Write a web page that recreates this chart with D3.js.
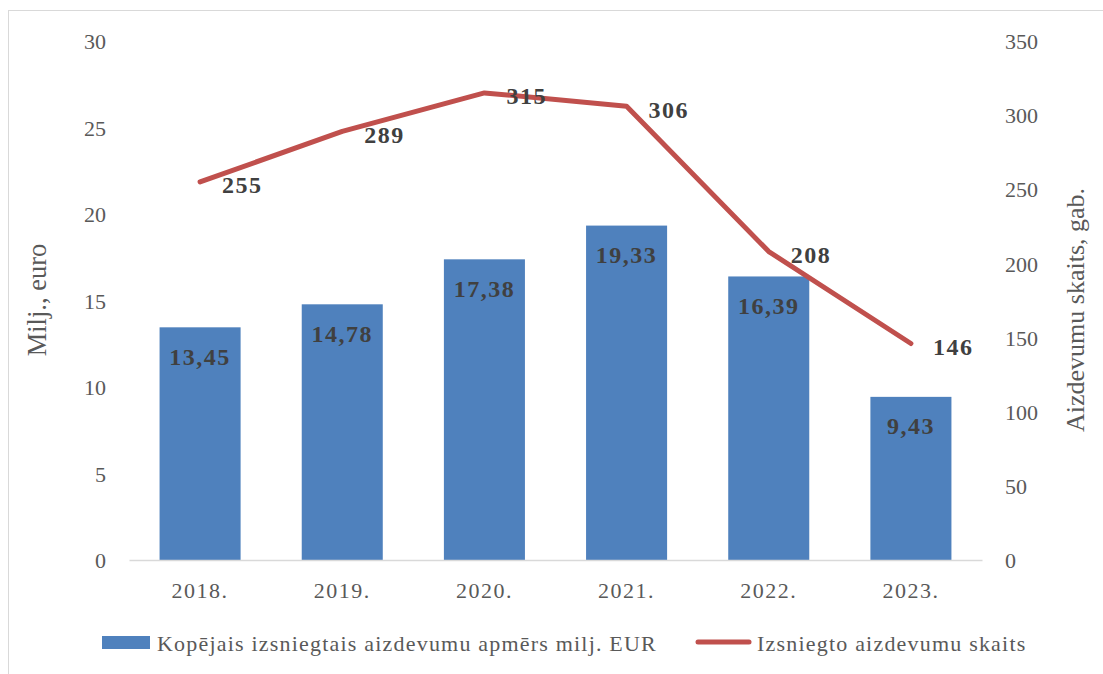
<!DOCTYPE html>
<html>
<head>
<meta charset="utf-8">
<script src="https://cdn.jsdelivr.net/npm/d3@7"></script>
<style>
  body { margin: 0; background: #fff; }
  svg text { font-family: "Liberation Serif", "DejaVu Serif", serif; fill: #595959; }
  .lbl { font-weight: bold; fill: #404040; }
</style>
</head>
<body>
<div id="chart"></div>
<script>
// Chart data
const years = ["2018.", "2019.", "2020.", "2021.", "2022.", "2023."];
const amounts = [13.45, 14.78, 17.38, 19.33, 16.39, 9.43];
const counts = [255, 289, 315, 306, 208, 146];
const leftTicks = [0, 5, 10, 15, 20, 25, 30];
const rightTicks = [0, 50, 100, 150, 200, 250, 300, 350];

const width = 1103, height = 674;
const margin = { top: 41, right: 121, bottom: 114, left: 129 };
const innerW = width - margin.left - margin.right;
const innerH = height - margin.top - margin.bottom;

const fmt = d => d.toFixed(2).replace('.', ',');

const svg = d3.select('#chart').append('svg')
  .attr('width', width)
  .attr('height', height);

// Outer frame
svg.append('rect')
  .attr('x', 8.5).attr('y', 10.5)
  .attr('width', 1110).attr('height', 700)
  .attr('fill', 'none')
  .attr('stroke', '#d9d9d9');

const g = svg.append('g')
  .attr('transform', `translate(${margin.left},${margin.top})`);

// Scales
const xScale = d3.scaleBand()
  .domain(years)
  .range([0, innerW])
  .paddingInner(0.43)
  .paddingOuter(0.215);

const yLeft = d3.scaleLinear().domain([0, 30]).range([innerH, 0]);
const yRight = d3.scaleLinear().domain([0, 350]).range([innerH, 0]);

// Axes
const yLeftAxis = d3.axisLeft(yLeft).tickValues(leftTicks).tickSize(0).tickPadding(23);
const yRightAxis = d3.axisRight(yRight).tickValues(rightTicks).tickSize(0).tickPadding(23);
const xAxis = d3.axisBottom(xScale).tickSize(0).tickPadding(22);

const yLG = g.append('g').call(yLeftAxis);
yLG.select('.domain').remove();
yLG.selectAll('text').attr('font-size', 22).attr('fill', '#595959').attr('dy', '0.35em');

const yRG = g.append('g').attr('transform', `translate(${innerW},0)`).call(yRightAxis);
yRG.select('.domain').remove();
yRG.selectAll('text').attr('font-size', 22).attr('fill', '#595959').attr('dy', '0.35em');

// Bars
g.selectAll('.bar')
  .data(amounts)
  .join('rect')
  .attr('class', 'bar')
  .attr('x', (d, i) => xScale(years[i]))
  .attr('width', xScale.bandwidth())
  .attr('y', d => yLeft(d))
  .attr('height', d => innerH - yLeft(d))
  .attr('fill', '#4f81bd');

// Baseline + x labels
const xG = g.append('g').attr('transform', `translate(0,${innerH})`).call(xAxis);
xG.select('.domain').attr('stroke', '#d9d9d9').attr('stroke-width', 1.5);
xG.selectAll('text').attr('font-size', 22).attr('fill', '#595959').attr('letter-spacing', 1.5);

// Bar labels
g.selectAll('.bar-lbl')
  .data(amounts)
  .join('text')
  .attr('class', 'lbl')
  .attr('x', (d, i) => xScale(years[i]) + xScale.bandwidth() / 2)
  .attr('y', d => yLeft(d) + 29)
  .attr('dy', '0.35em')
  .attr('text-anchor', 'middle')
  .attr('font-size', 24)
  .attr('letter-spacing', 1.5)
  .text(fmt);

// Line
const cx = i => xScale(years[i]) + xScale.bandwidth() / 2;
const line = d3.line()
  .x((d, i) => cx(i))
  .y(d => yRight(d));

g.append('path')
  .datum(counts)
  .attr('d', line)
  .attr('fill', 'none')
  .attr('stroke', '#c0504d')
  .attr('stroke-width', 5)
  .attr('stroke-linecap', 'round')
  .attr('stroke-linejoin', 'round');

g.selectAll('.line-lbl')
  .data(counts)
  .join('text')
  .attr('class', 'lbl')
  .attr('x', (d, i) => cx(i) + 22)
  .attr('y', d => yRight(d) + 3)
  .attr('dy', '0.35em')
  .attr('font-size', 24)
  .attr('letter-spacing', 1.5)
  .text(d => d);

// Axis titles
svg.append('text')
  .attr('transform', 'translate(37,300) rotate(-90)')
  .attr('text-anchor', 'middle')
  .attr('dy', '0.35em')
  .attr('font-size', 26.5)
  .text('Milj., euro');

svg.append('text')
  .attr('transform', 'translate(1075,310) rotate(-90)')
  .attr('text-anchor', 'middle')
  .attr('dy', '0.35em')
  .attr('font-size', 26)
  .text('Aizdevumu skaits, gab.');

// Legend
const legend = svg.append('g');
legend.append('rect')
  .attr('x', 102).attr('y', 636)
  .attr('width', 48).attr('height', 13)
  .attr('fill', '#4f81bd');
legend.append('text')
  .attr('x', 157).attr('y', 643)
  .attr('dy', '0.35em')
  .attr('font-size', 22)
  .attr('letter-spacing', 1.2)
  .text('Kopējais izsniegtais aizdevumu apmērs milj. EUR');

legend.append('line')
  .attr('x1', 698).attr('x2', 749)
  .attr('y1', 642).attr('y2', 642)
  .attr('stroke', '#c0504d')
  .attr('stroke-width', 5)
  .attr('stroke-linecap', 'round');
legend.append('text')
  .attr('x', 757).attr('y', 643)
  .attr('dy', '0.35em')
  .attr('font-size', 22)
  .attr('letter-spacing', 1.2)
  .text('Izsniegto aizdevumu skaits');
</script>
</body>
</html>
